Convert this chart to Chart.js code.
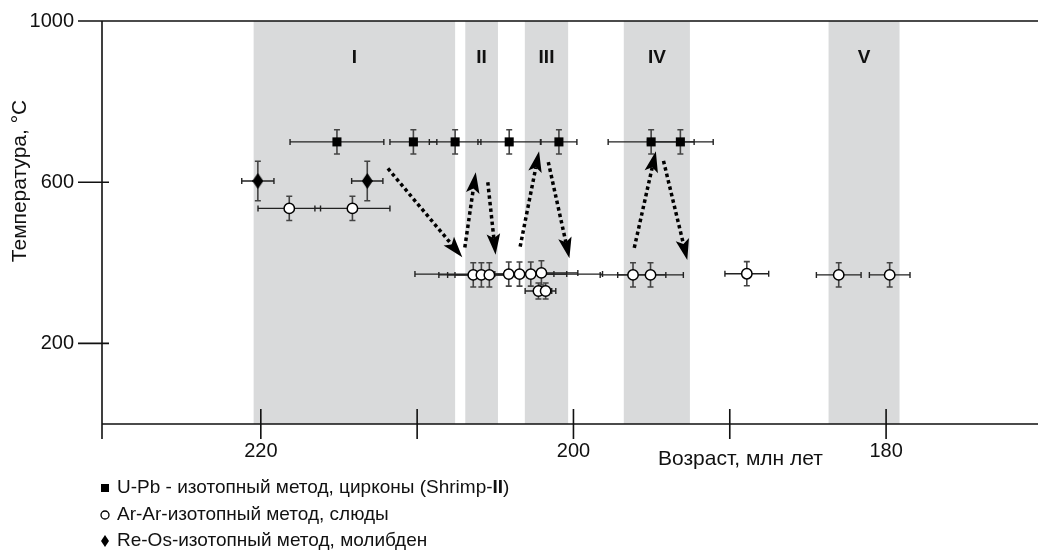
<!DOCTYPE html>
<html><head><meta charset="utf-8">
<script src="https://cdn.jsdelivr.net/npm/chart.js@4.4.1/dist/chart.umd.min.js"></script>
<style>html,body{margin:0;padding:0;background:#fff}#wrap{width:1038px;height:552px}</style>
</head><body><div id="wrap"><canvas id="c" width="1038" height="552"></canvas></div>
<script>
// ---- data ----
const xMin = 170.73, xMax = 230.16;
const yMin = 0, yMax = 1000;
const xTickValues = [180, 190, 200, 210, 220];
const xTickLabels = [220, 200, 180];
const yTickValues = [200, 600, 1000];

const upbAge     = [215.13, 210.24, 207.57, 204.11, 200.93, 195.03, 193.16];
const upbTemp    = [700, 700, 700, 700, 700, 700, 700];
const upbAgeErr  = [3.0, 1.5, 1.65, 2.0, 1.15, 2.75, 2.1];
const upbTempErr = [30, 30, 30, 30, 30, 30, 30];

const arAge     = [218.18, 214.14, 206.41, 205.89, 205.38, 204.14, 203.45, 202.73, 202.05, 202.24, 201.78, 196.19, 195.07, 188.91, 183.03, 179.77];
const arTemp    = [535, 535, 370, 370, 370, 372, 372, 372, 375, 330, 330, 370, 370, 373, 370, 370];
const arAgeErr  = [2.0, 2.4, 2.2, 2.16, 2.2, 6.0, 2.2, 2.3, 2.33, 0.85, 0.65, 2.1, 2.1, 1.4, 1.43, 1.3];
const arTempErr = [30, 30, 30, 30, 30, 30, 30, 30, 30, 20, 20, 30, 30, 30, 30, 30];

const reosAge     = [220.19, 213.19];
const reosTemp    = [603, 603];
const reosAgeErr  = [1.03, 1.0];
const reosTempErr = [49, 49];

const bandStart  = [220.46, 206.92, 203.11, 196.78, 183.68];
const bandEnd    = [207.57, 204.83, 200.34, 192.55, 179.14];
const bandLabels = ['I', 'II', 'III', 'IV', 'V'];
const bandLabelTemp = 910;

// arrows: start (age, temp) -> tip (age, temp)
const arrowStartAge  = [211.87, 206.95, 205.48, 203.41, 201.61, 196.11, 194.24];
const arrowStartTemp = [634, 438, 600, 440, 650, 437, 653];
const arrowTipAge    = [207.11, 206.25, 204.98, 202.2, 200.26, 194.73, 192.72];
const arrowTipTemp   = [414, 625, 420, 677, 411, 677, 407];

const seriesLabels = [
  'U-Pb - изотопный метод, цирконы (Shrimp-II)',
  'Ar-Ar-изотопный метод, слюды',
  'Re-Os-изотопный метод, молибден'
];
const xTitle = 'Возраст, млн лет';
const yTitle = 'Температура, °C';

// ---- styles ----
const FONT = '"Liberation Sans", Arial, Helvetica, sans-serif';
const BAND = '#d9dadb';

function makeDiamond(w, h) {
  const c = document.createElement('canvas');
  c.width = w; c.height = h;
  const g = c.getContext('2d');
  g.fillStyle = '#000';
  g.beginPath();
  g.moveTo(w / 2, 0); g.lineTo(w, h / 2); g.lineTo(w / 2, h); g.lineTo(0, h / 2);
  g.closePath(); g.fill();
  return c;
}
const diamond = makeDiamond(11, 16);
const diamondSmall = makeDiamond(8, 12);

const toPts = (xs, ys) => xs.map((x, i) => ({ x: x, y: ys[i] }));

const errs = [
  { age: upbAge, temp: upbTemp, ae: upbAgeErr, te: upbTempErr },
  { age: arAge, temp: arTemp, ae: arAgeErr, te: arTempErr },
  { age: reosAge, temp: reosTemp, ae: reosAgeErr, te: reosTempErr }
];

const bgPlugin = {
  id: 'bg',
  beforeDatasetsDraw(chart) {
    const ctx = chart.ctx, xs = chart.scales.x, ys = chart.scales.y, a = chart.chartArea;
    ctx.save();
    ctx.fillStyle = BAND;
    bandStart.forEach((s, i) => {
      const x1 = xs.getPixelForValue(s), x2 = xs.getPixelForValue(bandEnd[i]);
      ctx.fillRect(Math.min(x1, x2), a.top, Math.abs(x2 - x1), a.bottom - a.top);
    });
    ctx.fillStyle = '#111';
    ctx.font = 'bold 19px ' + FONT;
    ctx.textAlign = 'center'; ctx.textBaseline = 'middle';
    bandLabels.forEach((l, i) => {
      const xc = (xs.getPixelForValue(bandStart[i]) + xs.getPixelForValue(bandEnd[i])) / 2;
      ctx.fillText(l, xc, ys.getPixelForValue(bandLabelTemp));
    });
    arrowStartAge.forEach((sa, i) => {
      const x0 = xs.getPixelForValue(sa), y0 = ys.getPixelForValue(arrowStartTemp[i]);
      const x1 = xs.getPixelForValue(arrowTipAge[i]), y1 = ys.getPixelForValue(arrowTipTemp[i]);
      const ang = Math.atan2(y1 - y0, x1 - x0);
      const L = 21, hw = 6.8, notch = 4.5;
      const bx = x1 - Math.cos(ang) * L, by = y1 - Math.sin(ang) * L;
      const nx = x1 - Math.cos(ang) * (L - notch), ny = y1 - Math.sin(ang) * (L - notch);
      ctx.strokeStyle = '#000';
      ctx.lineWidth = 3.5;
      ctx.setLineDash([3.5, 3.1]);
      ctx.lineCap = 'butt';
      ctx.beginPath(); ctx.moveTo(x0, y0); ctx.lineTo(nx, ny); ctx.stroke();
      ctx.setLineDash([]);
      ctx.fillStyle = '#000';
      ctx.beginPath();
      ctx.moveTo(x1, y1);
      ctx.lineTo(bx - Math.sin(ang) * hw, by + Math.cos(ang) * hw);
      ctx.lineTo(nx, ny);
      ctx.lineTo(bx + Math.sin(ang) * hw, by - Math.cos(ang) * hw);
      ctx.closePath(); ctx.fill();
    });
    ctx.lineCap = 'butt';
    errs.forEach(s => {
      s.age.forEach((ag, i) => {
        const xc = xs.getPixelForValue(ag), yc = ys.getPixelForValue(s.temp[i]);
        const xl = xs.getPixelForValue(ag + s.ae[i]), xr = xs.getPixelForValue(ag - s.ae[i]);
        const yt = ys.getPixelForValue(s.temp[i] + s.te[i]), yb = ys.getPixelForValue(s.temp[i] - s.te[i]);
        ctx.strokeStyle = '#222'; ctx.lineWidth = 1.4;
        ctx.beginPath();
        ctx.moveTo(xl, yc); ctx.lineTo(xr, yc);
        ctx.moveTo(xl, yc - 3); ctx.lineTo(xl, yc + 3);
        ctx.moveTo(xr, yc - 3); ctx.lineTo(xr, yc + 3);
        ctx.stroke();
        ctx.strokeStyle = '#444'; ctx.lineWidth = 1.6;
        ctx.beginPath();
        ctx.moveTo(xc, yt); ctx.lineTo(xc, yb);
        ctx.moveTo(xc - 3, yt); ctx.lineTo(xc + 3, yt);
        ctx.moveTo(xc - 3, yb); ctx.lineTo(xc + 3, yb);
        ctx.stroke();
      });
    });
    ctx.restore();
  },
  afterDraw(chart) {
    const ctx = chart.ctx, xs = chart.scales.x, ys = chart.scales.y, a = chart.chartArea;
    ctx.save();
    ctx.strokeStyle = '#111'; ctx.lineWidth = 1.6;
    ctx.beginPath();
    ctx.moveTo(a.left, a.top); ctx.lineTo(a.left, a.bottom + 15);
    ctx.moveTo(a.left, a.bottom); ctx.lineTo(chart.width, a.bottom);
    ctx.moveTo(a.left - 24, a.top); ctx.lineTo(chart.width, a.top);
    yTickValues.forEach(v => { const y = ys.getPixelForValue(v); ctx.moveTo(a.left - 24, y); ctx.lineTo(a.left + 7, y); });
    xTickValues.forEach(v => { const x = xs.getPixelForValue(v); ctx.moveTo(x, a.bottom - 15); ctx.lineTo(x, a.bottom + 15); });
    ctx.stroke();
    ctx.fillStyle = '#111';
    ctx.font = '21px ' + FONT;
    ctx.textAlign = 'left'; ctx.textBaseline = 'middle';
    ctx.fillText(xTitle, 658, a.bottom + 35);
    ctx.save();
    ctx.translate(20, ys.getPixelForValue(603));
    ctx.rotate(-Math.PI / 2);
    ctx.textAlign = 'center';
    ctx.fillText(yTitle, 0, 0);
    ctx.restore();
    const rows = [488, 515, 541];
    const mx = 105, tx = 117;
    ctx.textBaseline = 'middle';
    ctx.fillStyle = '#000';
    ctx.fillRect(mx - 4, rows[0] - 4, 8, 8);
    ctx.strokeStyle = '#000'; ctx.lineWidth = 1.3;
    ctx.beginPath(); ctx.arc(mx, rows[1], 4, 0, Math.PI * 2); ctx.fillStyle = '#fff'; ctx.fill(); ctx.stroke();
    ctx.drawImage(diamondSmall, mx - 4, rows[2] - 6);
    ctx.fillStyle = '#111';
    ctx.font = '19px ' + FONT;
    const l1 = seriesLabels[0];
    const k = l1.lastIndexOf('II');
    const p1 = l1.slice(0, k), p2 = 'II', p3 = l1.slice(k + 2);
    let x = tx;
    ctx.fillText(p1, x, rows[0]); x += ctx.measureText(p1).width;
    ctx.font = 'bold 19px ' + FONT;
    ctx.fillText(p2, x, rows[0]); x += ctx.measureText(p2).width;
    ctx.font = '19px ' + FONT;
    ctx.fillText(p3, x, rows[0]);
    ctx.fillText(seriesLabels[1], tx, rows[1]);
    ctx.fillText(seriesLabels[2], tx, rows[2]);
    ctx.restore();
  }
};

new Chart(document.getElementById('c'), {
  type: 'scatter',
  data: {
    datasets: [
      { label: seriesLabels[0], data: toPts(upbAge, upbTemp), pointStyle: 'rect', pointRadius: 6.4,
        backgroundColor: '#000', borderColor: '#000', borderWidth: 0 },
      { label: seriesLabels[1], data: toPts(arAge, arTemp), pointStyle: 'circle', pointRadius: 5.2,
        backgroundColor: '#fff', borderColor: '#000', borderWidth: 1.5 },
      { label: seriesLabels[2], data: toPts(reosAge, reosTemp), pointStyle: diamond, pointRadius: 6 }
    ]
  },
  options: {
    responsive: false,
    animation: false,
    events: [],
    layout: { padding: { top: 21, right: 0, left: 0, bottom: 0 } },
    plugins: { legend: { display: false }, tooltip: { enabled: false } },
    scales: {
      x: {
        type: 'linear', reverse: true, min: xMin, max: xMax,
        afterFit(s) { s.height = 128; },
        afterBuildTicks(s) { s.ticks = xTickValues.map(v => ({ value: v })); },
        grid: { display: false, drawTicks: true, tickLength: 15 },
        border: { display: false },
        ticks: {
          padding: 0, color: '#111', font: { family: FONT, size: 20 }, maxRotation: 0, autoSkip: false,
          callback: v => xTickLabels.includes(v) ? String(v) : ''
        }
      },
      y: {
        type: 'linear', min: yMin, max: yMax,
        afterFit(s) { s.width = 102; },
        afterBuildTicks(s) { s.ticks = yTickValues.map(v => ({ value: v })); },
        grid: { display: false, drawTicks: true, tickLength: 28 },
        border: { display: false },
        ticks: { padding: 0, color: '#111', font: { family: FONT, size: 20 }, callback: v => String(v) }
      }
    }
  },
  plugins: [bgPlugin]
});
</script></body></html>
